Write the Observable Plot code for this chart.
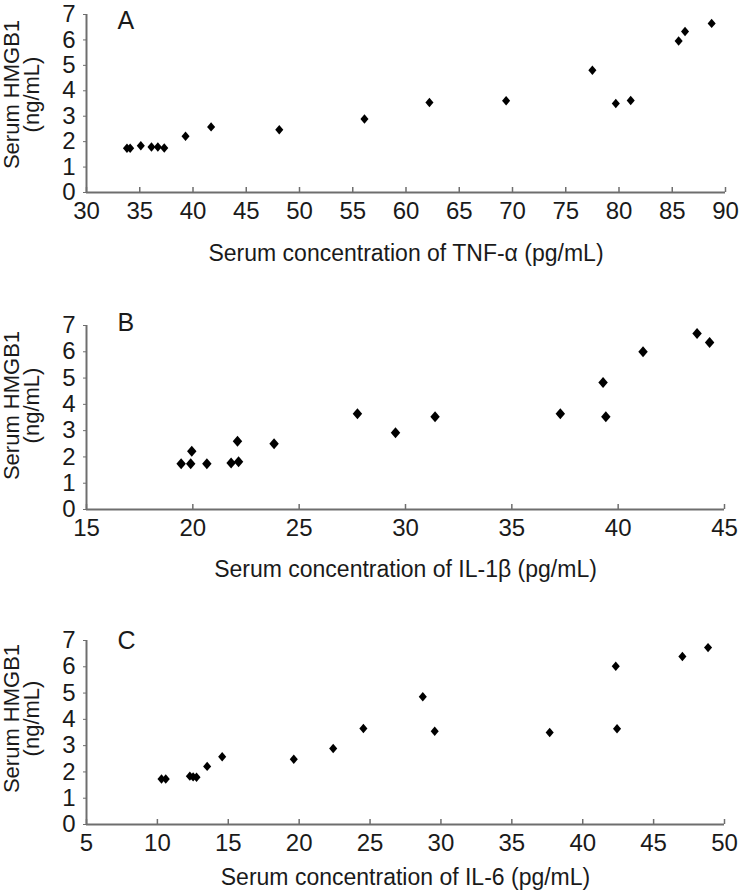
<!DOCTYPE html>
<html>
<head>
<meta charset="utf-8">
<script src="https://cdn.jsdelivr.net/npm/d3@7"></script>
<script src="https://cdn.jsdelivr.net/npm/@observablehq/plot@0.6"></script>
<style>
  html, body { margin: 0; padding: 0; background: #fff; }
  #chart { width: 740px; }
  #chart svg { display: block; }
</style>
</head>
<body>
<div id="chart"></div>
<script>
// ---- Data ----
const hmgbTicks = [0, 1, 2, 3, 4, 5, 6, 7];

// Panel A: TNF-α
const tnfX = [33.8, 34.1, 35.1, 36.1, 36.7, 37.3, 39.3, 41.7, 48.1, 56.1, 62.2, 69.4, 77.5, 79.7, 81.1, 85.6, 86.2, 88.7];
const tnfY = [1.74, 1.74, 1.84, 1.79, 1.79, 1.75, 2.21, 2.58, 2.47, 2.89, 3.54, 3.61, 4.81, 3.50, 3.62, 5.96, 6.33, 6.65];
const tnfTicks = [30, 35, 40, 45, 50, 55, 60, 65, 70, 75, 80, 85, 90];

// Panel B: IL-1β
const il1bX = [19.45, 19.9, 19.95, 20.66, 21.8, 22.15, 22.1, 23.82, 27.74, 29.53, 31.39, 37.28, 39.29, 39.42, 41.17, 43.71, 44.3];
const il1bY = [1.74, 1.74, 2.22, 1.74, 1.77, 1.82, 2.6, 2.5, 3.64, 2.92, 3.53, 3.64, 4.83, 3.53, 6.0, 6.7, 6.35];
const il1bTicks = [15, 20, 25, 30, 35, 40, 45];

// Panel C: IL-6
const il6X = [10.29, 10.59, 12.29, 12.52, 12.76, 13.51, 14.57, 19.62, 22.4, 24.53, 28.72, 29.56, 37.67, 42.33, 42.42, 47.03, 48.84];
const il6Y = [1.73, 1.73, 1.84, 1.81, 1.80, 2.21, 2.58, 2.48, 2.89, 3.65, 4.86, 3.55, 3.50, 6.02, 3.64, 6.39, 6.73];
const il6Ticks = [5, 10, 15, 20, 25, 30, 35, 40, 45, 50];

const panels = [
  {letter: "A", xs: tnfX, ys: tnfY, ticks: tnfTicks, title: "Serum concentration of TNF-α (pg/mL)",
   height: 280, marginTop: 14, marginBottom: 88, marginRight: 15, r: 4.7, letterDy: -3, yTitleDy: -9, titleDy: 61},
  {letter: "B", xs: il1bX, ys: il1bY, ticks: il1bTicks, title: "Serum concentration of IL-1β (pg/mL)",
   height: 315, marginTop: 45, marginBottom: 86, marginRight: 16, r: 5.5, letterDy: -12, yTitleDy: -12, titleDy: 60},
  {letter: "C", xs: il6X, ys: il6Y, ticks: il6Ticks, title: "Serum concentration of IL-6 (pg/mL)",
   height: 299, marginTop: 45, marginBottom: 70, marginRight: 16, r: 4.7, letterDy: -9, yTitleDy: -14, titleDy: 53}
];

const FONT = "'Liberation Sans', Arial, Helvetica, sans-serif";
const AXIS = "#6e6e6e";
const INK = "#1a1a1a";

// Diamond marker (slightly taller than wide)
const diamond = {
  draw(context, size) {
    const h = Math.sqrt(size / Math.PI);
    const w = h * 0.86;
    context.moveTo(0, -h);
    context.lineTo(w, 0);
    context.lineTo(0, h);
    context.lineTo(-w, 0);
    context.closePath();
  }
};

const chart = document.getElementById("chart");

for (const p of panels) {
  const data = p.xs.map((x, i) => ({x, y: p.ys[i]}));
  const x0 = p.ticks[0], x1 = p.ticks[p.ticks.length - 1];
  const svg = Plot.plot({
    width: 740,
    height: p.height,
    marginLeft: 86,
    marginRight: p.marginRight,
    marginTop: p.marginTop,
    marginBottom: p.marginBottom,
    style: {fontFamily: FONT, fontSize: "24px", color: INK, background: "#fff", overflow: "visible"},
    x: {domain: [x0, x1]},
    y: {domain: [0, 7]},
    marks: [
      // axis lines
      Plot.ruleY([0], {stroke: AXIS, strokeWidth: 2}),
      Plot.ruleX([x0], {stroke: AXIS, strokeWidth: 2}),
      // inward x ticks
      Plot.ruleX(p.ticks, {x: d => d, y1: 0, y2: 0, insetBottom: 5, stroke: AXIS, strokeWidth: 1.5}),
      Plot.axisX(p.ticks, {tickSize: 0, tickPadding: 9, label: null, fontSize: 24, fill: INK}),
      Plot.axisY(hmgbTicks, {tickSize: 3, tickPadding: 8, label: null, fontSize: 24, fill: INK, stroke: AXIS}),
      // x title
      Plot.text([p.title], {frameAnchor: "bottom", dy: p.titleDy, fontSize: 23, fill: INK, lineAnchor: "middle"}),
      // y title (two lines, rotated)
      Plot.text(["Serum HMGB1\n(ng/mL)"], {frameAnchor: "left", dx: -64, dy: p.yTitleDy, rotate: -90,
        fontSize: 22, lineHeight: 0.92, fill: INK, lineAnchor: "middle", textAnchor: "middle"}),
      // panel letter
      Plot.text([p.letter], {frameAnchor: "top-left", dx: 31, dy: p.letterDy, textAnchor: "start",
        lineAnchor: "top", fontSize: 25, fill: INK}),
      // data
      Plot.dot(data, {x: "x", y: "y", symbol: diamond, r: p.r, fill: "#000", stroke: "none"})
    ]
  });
  chart.appendChild(svg);
}
</script>
</body>
</html>
